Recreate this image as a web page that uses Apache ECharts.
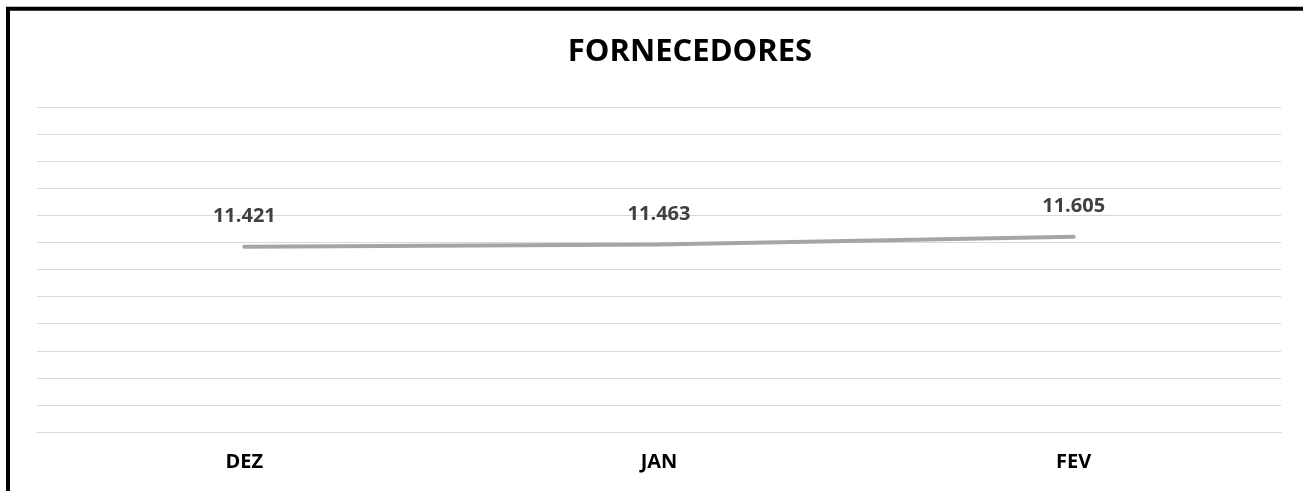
<!DOCTYPE html>
<html>
<head>
<meta charset="utf-8">
<script src="https://cdn.jsdelivr.net/npm/echarts@6/dist/echarts.min.js"></script>
<style>
  html, body { margin: 0; padding: 0; background: #fff; }
  #main { width: 1303px; height: 491px; }
</style>
</head>
<body>
<div id="main"></div>
<script>
const months = ['DEZ', 'JAN', 'FEV'];
const fornecedores = [11421, 11463, 11605];

const chart = echarts.init(document.getElementById('main'));

const option = {
  backgroundColor: '#fff',
  animation: false,
  title: {
    text: 'FORNECEDORES',
    left: 685,
    top: 32,
    textAlign: 'center',
    textStyle: {
      fontFamily: 'Open Sans',
      fontWeight: 'bold',
      fontSize: 31,
      color: '#000'
    }
  },
  graphic: [
    {
      type: 'rect',
      shape: { x: 8, y: 8.7, width: 1400, height: 600 },
      style: { fill: 'none', stroke: '#000', lineWidth: 4 },
      silent: true
    }
  ],
  grid: { left: 37, right: 22, top: 107, bottom: 59 },
  xAxis: {
    type: 'category',
    data: months,
    boundaryGap: true,
    axisLine: { show: true, lineStyle: { color: '#d9d9d9', width: 1 } },
    axisTick: { show: false },
    axisLabel: {
      margin: 20,
      fontFamily: 'Open Sans',
      fontWeight: 'bold',
      fontSize: 20,
      color: '#000'
    }
  },
  yAxis: {
    type: 'value',
    min: 8000,
    max: 14000,
    interval: 500,
    axisLine: { show: false },
    axisTick: { show: false },
    axisLabel: { show: false },
    splitLine: { lineStyle: { color: '#d9d9d9', width: 1 } }
  },
  series: [
    {
      name: 'FORNECEDORES',
      type: 'line',
      data: fornecedores,
      symbol: 'circle',
      symbolSize: 1,
      showSymbol: true,
      itemStyle: { color: '#a5a5a5', opacity: 0 },
      lineStyle: { color: '#a5a5a5', width: 4, cap: 'round' },
      label: {
        show: true,
        position: 'top',
        distance: 20,
        fontFamily: 'Open Sans',
        fontWeight: 'bold',
        fontSize: 20,
        color: '#404040',
        opacity: 1,
        formatter: (p) => (p.value / 1000).toFixed(3)
      }
    }
  ]
};

chart.setOption(option);
</script>
</body>
</html>
